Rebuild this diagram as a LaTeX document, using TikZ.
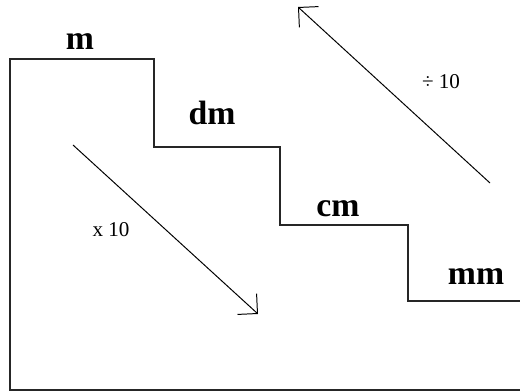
\documentclass[tikz,border=0pt]{standalone}
\usepackage{fontspec}
\setmainfont{Liberation Serif}
\usetikzlibrary{arrows.meta}

\begin{document}
\begin{tikzpicture}[x=0.025cm,y=-0.025cm,>={Straight Barb[angle=90:5mm]},
  unit/.style={font=\fontsize{24}{28}\selectfont\bfseries,inner sep=0pt,anchor=base},
  factor/.style={font=\fontsize{15}{18}\selectfont,inner sep=0pt,anchor=base},
  stair/.style={line width=1.4pt,draw=black!85}]
  \useasboundingbox (0,0) rectangle (520,392);
  % the steps
  \draw[stair] (520,390) -- (10,390) -- (10,59) -- (154,59) -- (154,147)
    -- (280,147) -- (280,225) -- (408,225) -- (408,301) -- (520,301);
  \node[unit] (m)  at (80,50)   {m};
  \node[unit] (dm) at (212,125) {dm};
  \node[unit] (cm) at (338,217) {cm};
  \node[unit] (mm) at (476,285) {mm};
  % going down, going up
  \coordinate (downA) at (73,145);
  \coordinate (downB) at (258,314);
  \coordinate (upA) at (490,183);
  \coordinate (upB) at (298,7);
  \draw[->,line width=0.7pt] (downA) -- (downB);
  \draw[->,line width=0.7pt] (upA) -- (upB);
  \node[factor] (times) at (111,237) {x 10};
  \node[factor] (divide) at (441,89) {÷ 10};
\end{tikzpicture}
\end{document}
